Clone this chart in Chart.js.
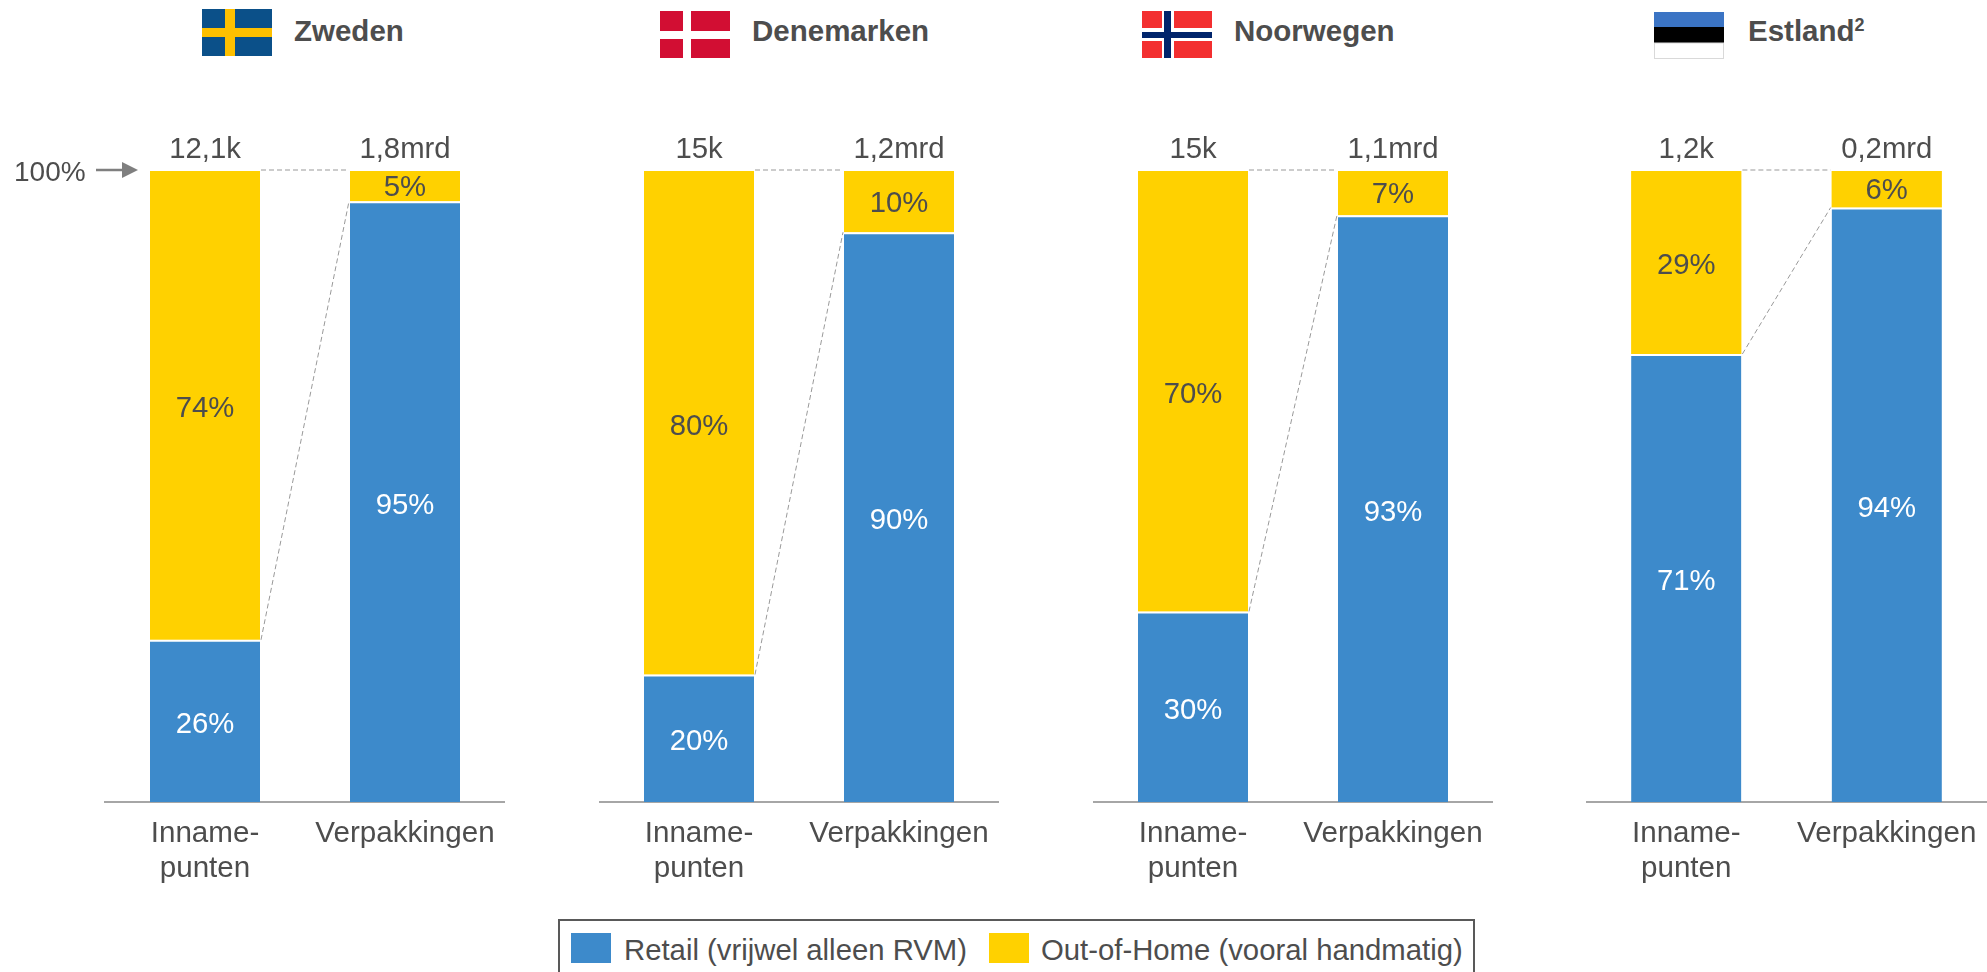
<!DOCTYPE html>
<html lang="nl">
<head>
<meta charset="utf-8">
<title>Inname en verpakkingen</title>
<script src="https://cdn.jsdelivr.net/npm/chart.js@4/dist/chart.umd.js"></script>
<style>
html,body{margin:0;padding:0;background:#fff;width:1987px;height:972px;overflow:hidden;font-family:"Liberation Sans",Arial,sans-serif;color:#4d4d4d}
canvas{position:absolute;display:block}
.hd{position:absolute;top:14px;font-size:29.5px;line-height:34px;font-weight:bold;white-space:nowrap}
.hd sup{font-size:18px;line-height:0;position:relative;top:1px;vertical-align:super}
svg.flag{position:absolute;display:block}
#legend{position:absolute;left:558px;top:919px;width:917px;height:80px;border:2px solid #595959;box-sizing:border-box}
.sw{position:absolute;top:933px;height:30px;width:40px}
.lt{position:absolute;top:932px;font-size:29.3px;line-height:36px;white-space:nowrap}
</style>
</head>
<body>
<div id="legend"></div>
<div class="sw" style="left:571px;background:#3d8acb"></div>
<div class="lt" style="left:624px">Retail (vrijwel alleen RVM)</div>
<div class="sw" style="left:989px;background:#ffd100"></div>
<div class="lt" style="left:1041px">Out-of-Home (vooral handmatig)</div>

<svg class="flag" style="left:202px;top:9px" width="70" height="47"><rect width="70" height="47" fill="#0b5089"/><rect x="23" width="10" height="47" fill="#fec000"/><rect y="19" width="70" height="9" fill="#fec000"/></svg>
<div class="hd" style="left:294px">Zweden</div>

<svg class="flag" style="left:660px;top:11px" width="70" height="47"><rect width="70" height="47" fill="#d20e33"/><rect x="23" width="8" height="47" fill="#fff"/><rect y="20" width="70" height="8" fill="#fff"/></svg>
<div class="hd" style="left:752px">Denemarken</div>

<svg class="flag" style="left:1142px;top:11px" width="70" height="47"><rect width="70" height="47" fill="#f32f30"/><rect x="20" width="12" height="47" fill="#fff"/><rect y="17" width="70" height="13" fill="#fff"/><rect x="22" width="7" height="47" fill="#00246b"/><rect y="21" width="70" height="6" fill="#00246b"/></svg>
<div class="hd" style="left:1234px">Noorwegen</div>

<svg class="flag" style="left:1654px;top:12px" width="70" height="47"><rect width="70" height="15" fill="#3b74c4"/><rect y="15" width="70" height="16" fill="#000"/><rect y="31" x="0.5" width="69" height="15.5" fill="#fff" stroke="#d9d9d9"/></svg>
<div class="hd" style="left:1748px">Estland<sup>2</sup></div>

<canvas id="c0" width="505" height="780" style="left:0;top:120px"></canvas>
<canvas id="c1" width="400" height="780" style="left:598.5px;top:120px"></canvas>
<canvas id="c2" width="400" height="780" style="left:1092.5px;top:120px"></canvas>
<canvas id="c3" width="401" height="780" style="left:1586px;top:120px"></canvas>

<script>
// Data
const categories = [["Inname-", "punten"], "Verpakkingen"];
const seriesNames = ["Retail (vrijwel alleen RVM)", "Out-of-Home (vooral handmatig)"];
const zwedenRetail = [25.7, 95.2];
const zwedenOutOfHome = [74.3, 4.8];
const zwedenTotals = ["12,1k", "1,8mrd"];
const denemarkenRetail = [20.2, 90.3];
const denemarkenOutOfHome = [79.8, 9.7];
const denemarkenTotals = ["15k", "1,2mrd"];
const noorwegenRetail = [30.2, 93];
const noorwegenOutOfHome = [69.8, 7];
const noorwegenTotals = ["15k", "1,1mrd"];
const estlandRetail = [71, 94.2];
const estlandOutOfHome = [29, 5.8];
const estlandTotals = ["1,2k", "0,2mrd"];

const BLUE = "#3d8acb", YELLOW = "#ffd100", TEXT = "#4d4d4d";
const FONT = '"Liberation Sans", Arial, sans-serif';

const overlay = {
  id: "overlay",
  afterDraw(chart, args, opts) {
    const ctx = chart.ctx, x = chart.scales.x, y = chart.scales.y;
    const retail = chart.getDatasetMeta(0).data;
    const top = y.getPixelForValue(100);
    ctx.save();
    // connector lines
    const r0 = retail[0], r1 = retail[1];
    const left = r0.x + r0.width / 2 + 1, right = r1.x - r1.width / 2 - 1;
    ctx.strokeStyle = "#999999"; ctx.lineWidth = 1; ctx.setLineDash([5, 3]);
    ctx.beginPath();
    ctx.moveTo(left, top - 1); ctx.lineTo(right, top - 1);
    ctx.moveTo(left, y.getPixelForValue(chart.data.datasets[0].data[0]));
    ctx.lineTo(right, y.getPixelForValue(chart.data.datasets[0].data[1]));
    ctx.stroke();
    ctx.setLineDash([]);
    // value labels
    ctx.font = "29.3px " + FONT; ctx.textAlign = "center"; ctx.textBaseline = "alphabetic";
    chart.data.datasets.forEach((ds, d) => {
      ctx.fillStyle = d === 0 ? "#ffffff" : TEXT;
      ds.data.forEach((v, i) => {
        const bar = chart.getDatasetMeta(d).data[i];
        const h = Math.abs(bar.base - bar.y);
        ctx.fillText(Math.round(v) + "%", bar.x, (bar.y + bar.base) / 2 + (h > 80 ? 12 : 10));
      });
    });
    // totals above the bars
    ctx.fillStyle = TEXT;
    opts.totals.forEach((t, i) => ctx.fillText(t, x.getPixelForValue(i), top - 13));
    // 100% marker
    if (opts.marker) {
      ctx.textAlign = "left";
      ctx.font = "28px " + FONT;
      ctx.fillText("100%", 14, top + 10);
      ctx.strokeStyle = "#7f7f7f"; ctx.fillStyle = "#7f7f7f"; ctx.lineWidth = 2.5;
      ctx.beginPath(); ctx.moveTo(96, top - 1); ctx.lineTo(124, top - 1); ctx.stroke();
      ctx.beginPath(); ctx.moveTo(122, top - 9); ctx.lineTo(138, top - 1); ctx.lineTo(122, top + 7); ctx.closePath(); ctx.fill();
    }
    ctx.restore();
  }
};

function panel(id, retail, ooh, totals, paddingLeft, marker) {
  new Chart(document.getElementById(id), {
    type: "bar",
    data: {
      labels: categories,
      datasets: [
        { label: seriesNames[0], data: retail, backgroundColor: BLUE, borderColor: "#ffffff", borderWidth: { top: 2 }, borderSkipped: false },
        { label: seriesNames[1], data: ooh, backgroundColor: YELLOW }
      ]
    },
    options: {
      responsive: false,
      animation: false,
      devicePixelRatio: 1,
      categoryPercentage: 0.55,
      barPercentage: 1,
      layout: { padding: { top: 51, left: paddingLeft, right: 0, bottom: 0 } },
      plugins: { legend: { display: false }, tooltip: { enabled: false }, overlay: { totals, marker } },
      scales: {
        x: {
          stacked: true,
          grid: { display: false, drawTicks: false },
          border: { display: true, color: "#a6a6a6", width: 2 },
          ticks: { color: TEXT, padding: 14, maxRotation: 0, autoSkip: false, font: { family: FONT, size: 29.6, lineHeight: 1.2 } },
          afterFit(s) { s.height = 98; s.paddingLeft = 0; s.paddingRight = 0; }
        },
        y: { stacked: true, display: false, min: 0, max: 100 }
      }
    },
    plugins: [overlay]
  });
}

panel("c0", zwedenRetail, zwedenOutOfHome, zwedenTotals, 105, true);
panel("c1", denemarkenRetail, denemarkenOutOfHome, denemarkenTotals, 0, false);
panel("c2", noorwegenRetail, noorwegenOutOfHome, noorwegenTotals, 0, false);
panel("c3", estlandRetail, estlandOutOfHome, estlandTotals, 0, false);
</script>
</body>
</html>
